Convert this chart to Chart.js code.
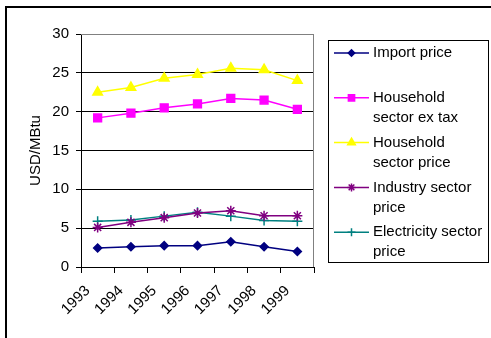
<!DOCTYPE html>
<html>
<head>
<meta charset="utf-8">
<script src="https://cdn.jsdelivr.net/npm/chart.js@4/dist/chart.umd.min.js"></script>
<style>
  html, body { margin: 0; padding: 0; background: #fff; }
  #wrap { width: 491px; height: 338px; position: relative; }
</style>
</head>
<body>
<div id="wrap"><canvas id="c" width="491" height="338"></canvas></div>
<script>
// Gas prices, USD per MBtu
const years = ['1993', '1994', '1995', '1996', '1997', '1998', '1999'];
const importPrice      = [2.45, 2.6, 2.75, 2.75, 3.25, 2.6, 2.0];
const householdExTax   = [19.2, 19.8, 20.5, 21.0, 21.7, 21.5, 20.3];
const householdPrice   = [22.5, 23.1, 24.3, 24.8, 25.6, 25.4, 24.0];
const industryPrice    = [5.1, 5.75, 6.35, 6.95, 7.25, 6.6, 6.6];
const electricityPrice = [5.9, 6.05, 6.55, 7.05, 6.55, 6.0, 5.9];
const yTicks = [0, 5, 10, 15, 20, 25, 30];

const seriesNames = [
  ['Import price'],
  ['Household', 'sector ex tax'],
  ['Household', 'sector price'],
  ['Industry sector', 'price'],
  ['Electricity sector', 'price']
];

const FONT = 'Liberation Sans, Arial, Helvetica, sans-serif';

function series(idx, data, color, style, radius) {
  return {
    label: seriesNames[idx].join(' '),
    data: data,
    borderColor: color,
    backgroundColor: color,
    pointBackgroundColor: color,
    pointBorderColor: color,
    pointStyle: style,
    pointRadius: radius,
    pointHoverRadius: radius,
    pointBorderWidth: 1.5,
    borderWidth: 1.5,
    tension: 0,
    fill: false
  };
}

// Outer frame (only top and left edges visible)
const framePlugin = {
  id: 'frame',
  beforeDraw(chart) {
    const ctx = chart.ctx;
    ctx.save();
    ctx.fillStyle = '#fff';
    ctx.fillRect(0, 0, chart.width, chart.height);
    ctx.strokeStyle = '#000';
    ctx.lineWidth = 2;
    ctx.beginPath();
    ctx.moveTo(6, chart.height);
    ctx.lineTo(6, 7);
    ctx.lineTo(chart.width, 7);
    ctx.stroke();
    ctx.restore();
  }
};

// Grey right edge of the plot area
const plotEdgePlugin = {
  id: 'plotEdge',
  beforeDatasetsDraw(chart) {
    const a = chart.chartArea, ctx = chart.ctx;
    ctx.save();
    ctx.strokeStyle = '#808080';
    ctx.lineWidth = 1;
    ctx.beginPath();
    ctx.moveTo(a.left, a.top + 0.5);
    ctx.lineTo(Math.round(a.right) - 0.5, a.top + 0.5);
    ctx.lineTo(Math.round(a.right) - 0.5, a.bottom);
    ctx.stroke();
    ctx.restore();
  }
};

// Boxed legend to the right, with wrapped labels
const boxLegendPlugin = {
  id: 'boxLegend',
  afterDraw(chart) {
    const ctx = chart.ctx;
    ctx.save();
    ctx.strokeStyle = '#000';
    ctx.lineWidth = 1;
    ctx.strokeRect(328.5, 40.5, 160, 222);
    ctx.font = '15px ' + FONT;
    ctx.textBaseline = 'middle';
    ctx.textAlign = 'left';
    chart.data.datasets.forEach((ds, i) => {
      const y = 53 + i * 44.8;
      ctx.strokeStyle = ds.borderColor;
      ctx.lineWidth = 1.5;
      ctx.beginPath();
      ctx.moveTo(334, y);
      ctx.lineTo(369, y);
      ctx.stroke();
      ctx.fillStyle = ds.pointBackgroundColor;
      ctx.strokeStyle = ds.pointBorderColor;
      Chart.helpers.drawPoint(ctx, {
        pointStyle: ds.pointStyle,
        radius: ds.pointRadius * 0.8,
        borderWidth: ds.pointBorderWidth,
        rotation: 0
      }, 351.5, y);
      ctx.fillStyle = '#000';
      seriesNames[i].forEach((line, k) => ctx.fillText(line, 373, y + k * 20));
    });
    ctx.restore();
  }
};

new Chart(document.getElementById('c'), {
  type: 'line',
  data: {
    labels: years,
    datasets: [
      series(0, importPrice, '#000080', 'rectRot', 4),
      series(1, householdExTax, '#FF00FF', 'rect', 5.5),
      series(2, householdPrice, '#FFFF00', 'triangle', 5.5),
      series(3, industryPrice, '#800080', 'star', 5),
      series(4, electricityPrice, '#008080', 'cross', 5)
    ]
  },
  options: {
    responsive: false,
    animation: false,
    devicePixelRatio: 1,
    layout: { padding: { top: 34, right: 177, left: 0, bottom: 0 } },
    plugins: { legend: { display: false }, tooltip: { enabled: false } },
    scales: {
      x: {
        type: 'category',
        offset: true,
        grid: { offset: true, drawOnChartArea: false, drawTicks: true, tickLength: 6, color: '#000' },
        border: { color: '#000', width: 1 },
        ticks: {
          autoSkip: false, minRotation: 45, maxRotation: 45,
          font: { family: FONT, size: 15 }, color: '#000',
          padding: 9, labelOffset: -10
        },
        afterFit(s) { s.height = 71; s.paddingLeft = 0; s.paddingRight = 0; }
      },
      y: {
        min: 0, max: 30,
        afterBuildTicks(s) { s.ticks = yTicks.map(v => ({ value: v })); },
        ticks: { font: { family: FONT, size: 15 }, color: '#000', padding: 7 },
        grid: {
          color: c => (c.tick && c.tick.value === 30) ? '#808080' : '#000',
          tickColor: '#000', tickLength: 5, drawTicks: true, lineWidth: 1
        },
        border: { color: '#000', width: 1 },
        title: {
          display: true, text: 'USD/MBtu', color: '#000',
          font: { family: FONT, size: 15 }, padding: { top: 27, bottom: 0 }
        },
        afterFit(s) { s.width = 81; }
      }
    }
  },
  plugins: [framePlugin, plotEdgePlugin, boxLegendPlugin]
});
</script>
</body>
</html>
